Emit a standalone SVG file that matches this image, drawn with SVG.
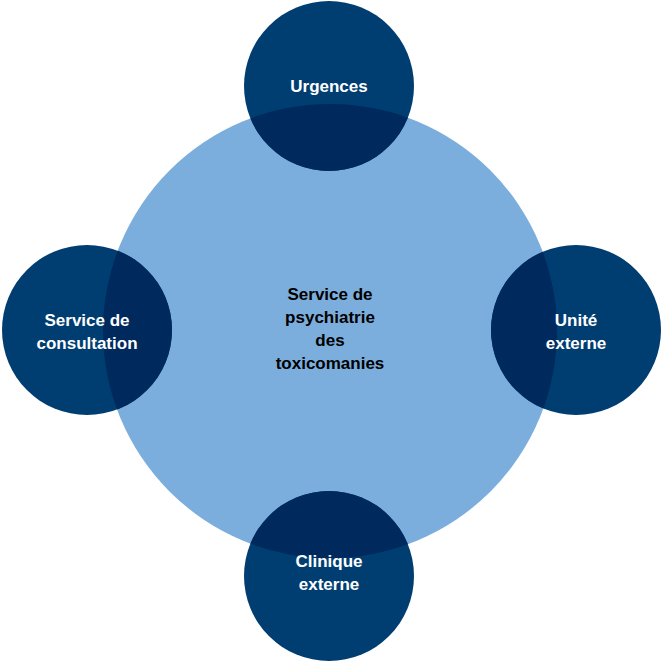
<svg xmlns="http://www.w3.org/2000/svg" width="662" height="662" viewBox="0 0 662 662">
<style>
.sat{fill:#003E71}
.ov{fill:#002A5E}
.t{font-family:"Liberation Sans",Arial,sans-serif;font-weight:bold;font-size:17px;text-anchor:middle}
.w{fill:#fff}
</style>
<defs>
<clipPath id="big"><circle cx="330" cy="331" r="227"/></clipPath>
</defs>
<rect width="662" height="662" fill="#fff"/>
<g id="center">
<circle cx="330" cy="331" r="227" fill="#7BAEDD"/>
<text class="t" x="330" y="300">Service de</text>
<text class="t" x="330" y="323">psychiatrie</text>
<text class="t" x="330" y="346">des</text>
<text class="t" x="330" y="369">toxicomanies</text>
</g>
<g id="urgences">
<circle class="sat" cx="329" cy="86" r="85"/>
<circle class="ov" cx="329" cy="86" r="85" clip-path="url(#big)"/>
<text class="t w" x="329" y="92">Urgences</text>
</g>
<g id="consultation">
<circle class="sat" cx="87" cy="330" r="85"/>
<circle class="ov" cx="87" cy="330" r="85" clip-path="url(#big)"/>
<text class="t w" x="87" y="326">Service de</text>
<text class="t w" x="87" y="349">consultation</text>
</g>
<g id="unite">
<circle class="sat" cx="576" cy="330" r="85"/>
<circle class="ov" cx="576" cy="330" r="85" clip-path="url(#big)"/>
<text class="t w" x="576" y="326">Unité</text>
<text class="t w" x="576" y="349">externe</text>
</g>
<g id="clinique">
<circle class="sat" cx="329" cy="576" r="85"/>
<circle class="ov" cx="329" cy="576" r="85" clip-path="url(#big)"/>
<text class="t w" x="329" y="567">Clinique</text>
<text class="t w" x="329" y="590">externe</text>
</g>
<g id="connectors"/>
</svg>
